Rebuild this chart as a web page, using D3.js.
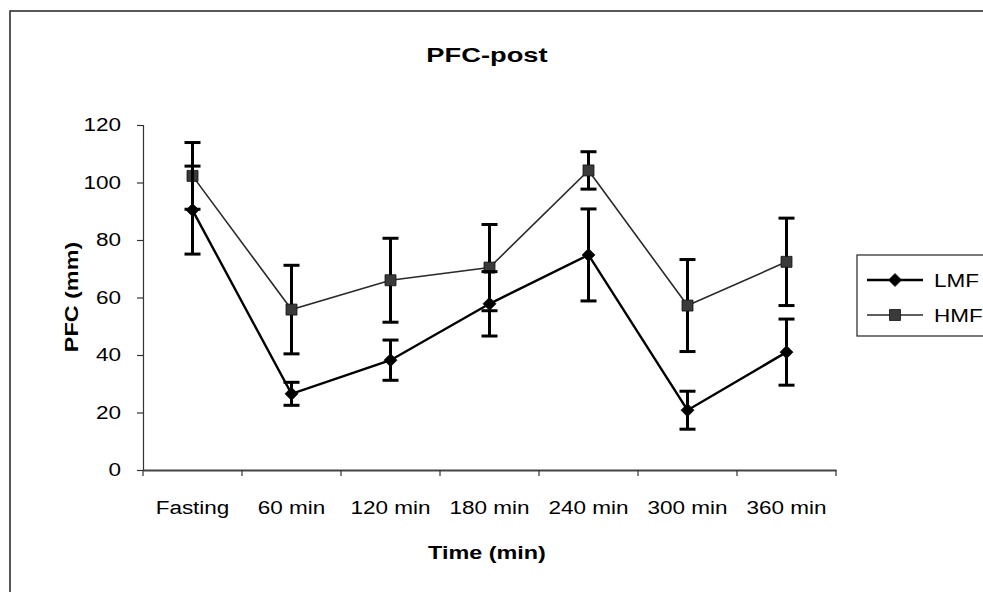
<!DOCTYPE html>
<meta charset="utf-8">
<style>
body { margin: 0; background: #fff; }
text { font-family: "Liberation Sans", Arial, sans-serif; fill: #000; }
</style>
<body>
<div id="chart"></div>
<script src="https://d3js.org/d3.v7.min.js"></script>
<script>
var categories = ["Fasting", "60 min", "120 min", "180 min", "240 min", "300 min", "360 min"];
var lmfValues = [90.4, 26.5, 38.2, 57.8, 74.8, 20.8, 41];
var lmfErrors = [15.3, 4, 7, 11.2, 16, 6.6, 11.5];
var hmfValues = [102.3, 55.8, 66, 70.4, 104.2, 57.2, 72.4];
var hmfErrors = [11.6, 15.4, 14.6, 15, 6.5, 16, 15.2];
var yTicks = [0, 20, 40, 60, 80, 100, 120];

var width = 983, height = 592;
var margin = {left: 143, right: 147, top: 125, bottom: 122};

var svg = d3.select("#chart").append("svg")
    .attr("width", width)
    .attr("height", height);

// the scanned text is wide: scale glyphs horizontally around their anchor
function widen(sel, k) {
  sel.each(function() {
    var t = d3.select(this);
    var x0 = +t.attr("x") || 0;
    t.attr("x", x0 / k).attr("transform", "scale(" + k + ",1)");
  });
}

// outer frame (right and bottom run off the picture)
svg.append("path")
    .attr("d", "M10,592V11H983")
    .attr("fill", "none")
    .attr("stroke", "#222")
    .attr("stroke-width", 1.5);

var x = d3.scaleBand()
    .domain(categories)
    .range([margin.left, width - margin.right]);

var y = d3.scaleLinear()
    .domain([0, 120])
    .range([height - margin.bottom, margin.top]);

// y axis
var yAxis = svg.append("g")
    .attr("transform", "translate(" + margin.left + ",0)")
    .call(d3.axisLeft(y).tickValues(yTicks).tickSize(6).tickPadding(16));
yAxis.selectAll("text").style("font-size", "18px").call(widen, 1.25);
yAxis.selectAll("line, path").attr("stroke", "#333").attr("stroke-width", 1.2);

// x axis, ticks between categories
var xAxis = svg.append("g")
    .attr("transform", "translate(0," + y(0) + ")")
    .call(d3.axisBottom(x).tickSize(0).tickPadding(31));
xAxis.selectAll("text").style("font-size", "18px").call(widen, 1.25);
xAxis.select("path").attr("stroke", "#444").attr("stroke-width", 2);
var bounds = categories.map(function(c) { return x(c); }).concat([x.range()[1]]);
xAxis.selectAll(".sep").data(bounds).enter().append("line")
    .attr("class", "sep")
    .attr("x1", function(d) { return d; })
    .attr("x2", function(d) { return d; })
    .attr("y1", 0).attr("y2", 6)
    .attr("stroke", "#333").attr("stroke-width", 1.2);

// titles
svg.append("g").attr("transform", "translate(487,62)")
  .append("text")
    .attr("text-anchor", "middle")
    .style("font-size", "21px").style("font-weight", "bold")
    .text("PFC-post")
    .call(widen, 1.3);
svg.append("g").attr("transform", "translate(487,559)")
  .append("text")
    .attr("text-anchor", "middle")
    .style("font-size", "18px").style("font-weight", "bold")
    .text("Time (min)")
    .call(widen, 1.3);
svg.append("g").attr("transform", "translate(78,297) rotate(-90)")
  .append("text")
    .attr("text-anchor", "middle")
    .style("font-size", "18px").style("font-weight", "bold")
    .text("PFC (mm)")
    .call(widen, 1.3);

var cx = function(i) { return x(categories[i]) + x.bandwidth() / 2; };

function series(values, errors, color, lineWidth, shape, markColor) {
  var g = svg.append("g");
  var line = d3.line()
      .x(function(d, i) { return cx(i); })
      .y(function(d) { return y(d); });
  g.append("path")
      .datum(values)
      .attr("d", line)
      .attr("fill", "none")
      .attr("stroke", color)
      .attr("stroke-width", lineWidth);
  // error bars
  values.forEach(function(v, i) {
    var e = errors[i];
    g.append("line")
        .attr("x1", cx(i)).attr("x2", cx(i))
        .attr("y1", y(v - e)).attr("y2", y(v + e))
        .attr("stroke", "#000").attr("stroke-width", 3);
    [v - e, v + e].forEach(function(t) {
      g.append("line")
          .attr("x1", cx(i) - 8).attr("x2", cx(i) + 8)
          .attr("y1", y(t)).attr("y2", y(t))
          .attr("stroke", "#000").attr("stroke-width", 3);
    });
  });
  g.selectAll(".mark").data(values).enter().append("path")
      .attr("class", "mark")
      .attr("transform", function(d, i) { return "translate(" + cx(i) + "," + y(d) + ")"; })
      .attr("d", shape)
      .attr("fill", markColor)
      .attr("stroke", "#111")
      .attr("stroke-width", 0.8);
}

var diamond = "M0,-6.5L6.5,0L0,6.5L-6.5,0Z";
var square = "M-5.5,-5.5H5.5V5.5H-5.5Z";

series(hmfValues, hmfErrors, "#2a2a2a", 1.6, square, "#3a3a3a");
series(lmfValues, lmfErrors, "#000", 2.4, diamond, "#000");

// legend
var legend = svg.append("g");
legend.append("rect")
    .attr("x", 857).attr("y", 255)
    .attr("width", 140).attr("height", 81)
    .attr("fill", "#fff")
    .attr("stroke", "#222").attr("stroke-width", 1.2);
var legendItems = [
  {name: "LMF", shape: diamond, fill: "#000", stroke: "#000", w: 2.4, y: 280},
  {name: "HMF", shape: square, fill: "#3a3a3a", stroke: "#2a2a2a", w: 1.6, y: 315}
];
legendItems.forEach(function(d) {
  legend.append("line")
      .attr("x1", 867).attr("x2", 923)
      .attr("y1", d.y).attr("y2", d.y)
      .attr("stroke", d.stroke).attr("stroke-width", d.w);
  legend.append("path")
      .attr("transform", "translate(895," + d.y + ")")
      .attr("d", d.shape)
      .attr("fill", d.fill)
      .attr("stroke", "#111").attr("stroke-width", 0.8);
  legend.append("g").attr("transform", "translate(934," + (d.y + 7) + ")")
    .append("text")
      .style("font-size", "18px")
      .text(d.name)
      .call(widen, 1.25);
});
</script>
</body>
